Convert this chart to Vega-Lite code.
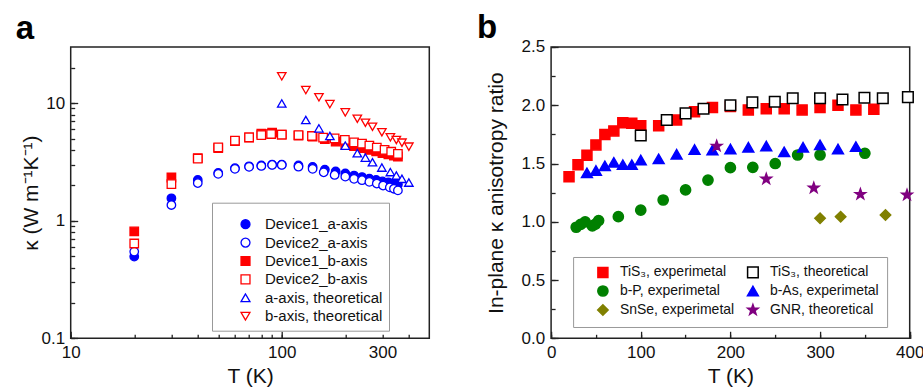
{
 "$schema": "https://vega.github.io/schema/vega-lite/v6.json",
 "autosize": {"type": "none"},
 "padding": {"left": 70.7, "top": 47, "right": 852.3, "bottom": 341},
 "background": "white",
 "spacing": 121.4,
 "bounds": "flush",
 "resolve": {"scale": {"shape": "independent", "fill": "independent", "stroke": "independent", "size": "independent", "x": "independent", "y": "independent"}, "legend": {"shape": "independent", "fill": "independent", "stroke": "independent", "size": "independent"}},
 "datasets": {
  "kappa": [
   {"series": "Device1_a-axis", "T": 20, "k": 0.495},
   {"series": "Device1_a-axis", "T": 30, "k": 1.55},
   {"series": "Device1_a-axis", "T": 40, "k": 2.22},
   {"series": "Device1_a-axis", "T": 50, "k": 2.55},
   {"series": "Device1_a-axis", "T": 60, "k": 2.8},
   {"series": "Device1_a-axis", "T": 70, "k": 2.9},
   {"series": "Device1_a-axis", "T": 80, "k": 2.95},
   {"series": "Device1_a-axis", "T": 90, "k": 3.0},
   {"series": "Device1_a-axis", "T": 100, "k": 3.0},
   {"series": "Device1_a-axis", "T": 120, "k": 2.95},
   {"series": "Device1_a-axis", "T": 140, "k": 2.87},
   {"series": "Device1_a-axis", "T": 160, "k": 2.72},
   {"series": "Device1_a-axis", "T": 180, "k": 2.62},
   {"series": "Device1_a-axis", "T": 200, "k": 2.52},
   {"series": "Device1_a-axis", "T": 220, "k": 2.42},
   {"series": "Device1_a-axis", "T": 240, "k": 2.35},
   {"series": "Device1_a-axis", "T": 260, "k": 2.28},
   {"series": "Device1_a-axis", "T": 280, "k": 2.22},
   {"series": "Device1_a-axis", "T": 300, "k": 2.16},
   {"series": "Device1_a-axis", "T": 320, "k": 2.12},
   {"series": "Device1_a-axis", "T": 340, "k": 2.07},
   {"series": "Device1_a-axis", "T": 355, "k": 2.03},
   {"series": "Device1_b-axis", "T": 20, "k": 0.81},
   {"series": "Device1_b-axis", "T": 30, "k": 2.33},
   {"series": "Device1_b-axis", "T": 40, "k": 3.4},
   {"series": "Device1_b-axis", "T": 50, "k": 4.15},
   {"series": "Device1_b-axis", "T": 60, "k": 4.75},
   {"series": "Device1_b-axis", "T": 70, "k": 5.1},
   {"series": "Device1_b-axis", "T": 80, "k": 5.5},
   {"series": "Device1_b-axis", "T": 90, "k": 5.6},
   {"series": "Device1_b-axis", "T": 100, "k": 5.4},
   {"series": "Device1_b-axis", "T": 120, "k": 5.3},
   {"series": "Device1_b-axis", "T": 140, "k": 5.2},
   {"series": "Device1_b-axis", "T": 160, "k": 4.95},
   {"series": "Device1_b-axis", "T": 180, "k": 4.7},
   {"series": "Device1_b-axis", "T": 200, "k": 4.45},
   {"series": "Device1_b-axis", "T": 220, "k": 4.3},
   {"series": "Device1_b-axis", "T": 240, "k": 4.15},
   {"series": "Device1_b-axis", "T": 260, "k": 4.0},
   {"series": "Device1_b-axis", "T": 280, "k": 3.88},
   {"series": "Device1_b-axis", "T": 300, "k": 3.76},
   {"series": "Device1_b-axis", "T": 320, "k": 3.66},
   {"series": "Device1_b-axis", "T": 340, "k": 3.57},
   {"series": "Device1_b-axis", "T": 355, "k": 3.5},
   {"series": "Device2_a-axis", "T": 20, "k": 0.546},
   {"series": "Device2_a-axis", "T": 30, "k": 1.36},
   {"series": "Device2_a-axis", "T": 40, "k": 2.09},
   {"series": "Device2_a-axis", "T": 50, "k": 2.5},
   {"series": "Device2_a-axis", "T": 60, "k": 2.76},
   {"series": "Device2_a-axis", "T": 70, "k": 2.87},
   {"series": "Device2_a-axis", "T": 80, "k": 2.92},
   {"series": "Device2_a-axis", "T": 90, "k": 2.98},
   {"series": "Device2_a-axis", "T": 100, "k": 2.98},
   {"series": "Device2_a-axis", "T": 120, "k": 2.88},
   {"series": "Device2_a-axis", "T": 140, "k": 2.76},
   {"series": "Device2_a-axis", "T": 158, "k": 2.58},
   {"series": "Device2_a-axis", "T": 178, "k": 2.45},
   {"series": "Device2_a-axis", "T": 200, "k": 2.37},
   {"series": "Device2_a-axis", "T": 220, "k": 2.27},
   {"series": "Device2_a-axis", "T": 240, "k": 2.21},
   {"series": "Device2_a-axis", "T": 260, "k": 2.14},
   {"series": "Device2_a-axis", "T": 282, "k": 2.07},
   {"series": "Device2_a-axis", "T": 302, "k": 1.99},
   {"series": "Device2_a-axis", "T": 325, "k": 1.92},
   {"series": "Device2_a-axis", "T": 340, "k": 1.87},
   {"series": "Device2_a-axis", "T": 355, "k": 1.81},
   {"series": "Device2_b-axis", "T": 20, "k": 0.64},
   {"series": "Device2_b-axis", "T": 30, "k": 2.05},
   {"series": "Device2_b-axis", "T": 40, "k": 3.37},
   {"series": "Device2_b-axis", "T": 50, "k": 4.21},
   {"series": "Device2_b-axis", "T": 60, "k": 4.79},
   {"series": "Device2_b-axis", "T": 70, "k": 5.12},
   {"series": "Device2_b-axis", "T": 80, "k": 5.35},
   {"series": "Device2_b-axis", "T": 89, "k": 5.46},
   {"series": "Device2_b-axis", "T": 100, "k": 5.39},
   {"series": "Device2_b-axis", "T": 120, "k": 5.35},
   {"series": "Device2_b-axis", "T": 139, "k": 5.25},
   {"series": "Device2_b-axis", "T": 157, "k": 5.08},
   {"series": "Device2_b-axis", "T": 178, "k": 5.02},
   {"series": "Device2_b-axis", "T": 199, "k": 4.86},
   {"series": "Device2_b-axis", "T": 220, "k": 4.64},
   {"series": "Device2_b-axis", "T": 240, "k": 4.52},
   {"series": "Device2_b-axis", "T": 260, "k": 4.35},
   {"series": "Device2_b-axis", "T": 282, "k": 4.18},
   {"series": "Device2_b-axis", "T": 307, "k": 4.0},
   {"series": "Device2_b-axis", "T": 330, "k": 3.86},
   {"series": "Device2_b-axis", "T": 355, "k": 3.7},
   {"series": "a-axis, theoretical", "T": 100, "k": 9.94},
   {"series": "a-axis, theoretical", "T": 130, "k": 7.18},
   {"series": "a-axis, theoretical", "T": 150, "k": 6.1},
   {"series": "a-axis, theoretical", "T": 169, "k": 5.25},
   {"series": "a-axis, theoretical", "T": 200, "k": 4.35},
   {"series": "a-axis, theoretical", "T": 228, "k": 3.75},
   {"series": "a-axis, theoretical", "T": 249, "k": 3.44},
   {"series": "a-axis, theoretical", "T": 269, "k": 3.14},
   {"series": "a-axis, theoretical", "T": 298, "k": 2.83},
   {"series": "a-axis, theoretical", "T": 327, "k": 2.59},
   {"series": "a-axis, theoretical", "T": 349, "k": 2.42},
   {"series": "a-axis, theoretical", "T": 371, "k": 2.27},
   {"series": "a-axis, theoretical", "T": 400, "k": 2.11},
   {"series": "b-axis, theoretical", "T": 100, "k": 16.9},
   {"series": "b-axis, theoretical", "T": 130, "k": 12.9},
   {"series": "b-axis, theoretical", "T": 150, "k": 11.2},
   {"series": "b-axis, theoretical", "T": 169, "k": 9.8},
   {"series": "b-axis, theoretical", "T": 200, "k": 8.34},
   {"series": "b-axis, theoretical", "T": 228, "k": 7.36},
   {"series": "b-axis, theoretical", "T": 249, "k": 6.81},
   {"series": "b-axis, theoretical", "T": 269, "k": 6.3},
   {"series": "b-axis, theoretical", "T": 298, "k": 5.65},
   {"series": "b-axis, theoretical", "T": 327, "k": 5.12},
   {"series": "b-axis, theoretical", "T": 349, "k": 4.86},
   {"series": "b-axis, theoretical", "T": 371, "k": 4.61},
   {"series": "b-axis, theoretical", "T": 400, "k": 4.26}
  ],
  "ratio": [
   {"series": "b-P, experimetal", "T": 28, "r": 0.953},
   {"series": "b-P, experimetal", "T": 33, "r": 0.978},
   {"series": "b-P, experimetal", "T": 38, "r": 1.0},
   {"series": "b-P, experimetal", "T": 46, "r": 0.964},
   {"series": "b-P, experimetal", "T": 49.5, "r": 0.98},
   {"series": "b-P, experimetal", "T": 53, "r": 1.01},
   {"series": "b-P, experimetal", "T": 75, "r": 1.044},
   {"series": "b-P, experimetal", "T": 100, "r": 1.1},
   {"series": "b-P, experimetal", "T": 125, "r": 1.187},
   {"series": "b-P, experimetal", "T": 150, "r": 1.273},
   {"series": "b-P, experimetal", "T": 175, "r": 1.358},
   {"series": "b-P, experimetal", "T": 200, "r": 1.464},
   {"series": "b-P, experimetal", "T": 225, "r": 1.467},
   {"series": "b-P, experimetal", "T": 250, "r": 1.5},
   {"series": "b-P, experimetal", "T": 275, "r": 1.573},
   {"series": "b-P, experimetal", "T": 300, "r": 1.573},
   {"series": "b-P, experimetal", "T": 350, "r": 1.588},
   {"series": "SnSe, experimetal", "T": 300, "r": 1.03},
   {"series": "SnSe, experimetal", "T": 323, "r": 1.044},
   {"series": "SnSe, experimetal", "T": 373, "r": 1.058},
   {"series": "TiS₃, experimetal", "T": 20, "r": 1.387},
   {"series": "TiS₃, experimetal", "T": 30, "r": 1.49},
   {"series": "TiS₃, experimetal", "T": 40, "r": 1.57},
   {"series": "TiS₃, experimetal", "T": 50, "r": 1.66},
   {"series": "TiS₃, experimetal", "T": 60, "r": 1.75},
   {"series": "TiS₃, experimetal", "T": 70, "r": 1.78},
   {"series": "TiS₃, experimetal", "T": 80, "r": 1.85},
   {"series": "TiS₃, experimetal", "T": 90, "r": 1.845},
   {"series": "TiS₃, experimetal", "T": 100, "r": 1.825},
   {"series": "TiS₃, experimetal", "T": 120, "r": 1.825},
   {"series": "TiS₃, experimetal", "T": 140, "r": 1.873},
   {"series": "TiS₃, experimetal", "T": 160, "r": 1.945},
   {"series": "TiS₃, experimetal", "T": 180, "r": 1.98},
   {"series": "TiS₃, experimetal", "T": 200, "r": 1.99},
   {"series": "TiS₃, experimetal", "T": 220, "r": 1.96},
   {"series": "TiS₃, experimetal", "T": 240, "r": 1.97},
   {"series": "TiS₃, experimetal", "T": 260, "r": 1.97},
   {"series": "TiS₃, experimetal", "T": 280, "r": 1.96},
   {"series": "TiS₃, experimetal", "T": 300, "r": 1.98},
   {"series": "TiS₃, experimetal", "T": 320, "r": 2.0},
   {"series": "TiS₃, experimetal", "T": 340, "r": 1.96},
   {"series": "TiS₃, experimetal", "T": 360, "r": 1.965},
   {"series": "b-As, experimetal", "T": 40, "r": 1.42},
   {"series": "b-As, experimetal", "T": 50, "r": 1.44},
   {"series": "b-As, experimetal", "T": 60, "r": 1.48},
   {"series": "b-As, experimetal", "T": 70, "r": 1.51},
   {"series": "b-As, experimetal", "T": 80, "r": 1.49},
   {"series": "b-As, experimetal", "T": 90, "r": 1.49},
   {"series": "b-As, experimetal", "T": 100, "r": 1.53},
   {"series": "b-As, experimetal", "T": 120, "r": 1.54},
   {"series": "b-As, experimetal", "T": 140, "r": 1.58},
   {"series": "b-As, experimetal", "T": 160, "r": 1.62},
   {"series": "b-As, experimetal", "T": 180, "r": 1.615},
   {"series": "b-As, experimetal", "T": 200, "r": 1.625},
   {"series": "b-As, experimetal", "T": 220, "r": 1.64},
   {"series": "b-As, experimetal", "T": 240, "r": 1.65},
   {"series": "b-As, experimetal", "T": 260, "r": 1.6},
   {"series": "b-As, experimetal", "T": 281, "r": 1.64},
   {"series": "b-As, experimetal", "T": 300, "r": 1.66},
   {"series": "b-As, experimetal", "T": 320, "r": 1.625},
   {"series": "b-As, experimetal", "T": 340, "r": 1.645},
   {"series": "TiS₃, theoretical", "T": 100, "r": 1.74},
   {"series": "TiS₃, theoretical", "T": 129, "r": 1.873},
   {"series": "TiS₃, theoretical", "T": 150, "r": 1.93},
   {"series": "TiS₃, theoretical", "T": 170, "r": 1.97},
   {"series": "TiS₃, theoretical", "T": 200, "r": 2.0},
   {"series": "TiS₃, theoretical", "T": 224.5, "r": 2.025},
   {"series": "TiS₃, theoretical", "T": 249.5, "r": 2.03},
   {"series": "TiS₃, theoretical", "T": 269.5, "r": 2.06},
   {"series": "TiS₃, theoretical", "T": 300, "r": 2.06},
   {"series": "TiS₃, theoretical", "T": 325, "r": 2.05},
   {"series": "TiS₃, theoretical", "T": 349.5, "r": 2.065},
   {"series": "TiS₃, theoretical", "T": 370, "r": 2.06},
   {"series": "TiS₃, theoretical", "T": 398, "r": 2.07},
   {"series": "GNR, theoretical", "T": 184.7, "r": 1.65},
   {"series": "GNR, theoretical", "T": 240, "r": 1.367},
   {"series": "GNR, theoretical", "T": 293, "r": 1.29},
   {"series": "GNR, theoretical", "T": 345, "r": 1.236},
   {"series": "GNR, theoretical", "T": 397, "r": 1.23}
  ]
 },
 "hconcat": [
  {
   "width": 358.6,
   "height": 291.3,
   "title": {"text": "a", "anchor": "start", "frame": "group", "dx": -55, "offset": -25, "fontSize": 33, "fontWeight": "bold", "baseline": "alphabetic", "color": "#000"},
   "data": {"name": "kappa"},
   "resolve": {"axis": {"x": "independent", "y": "independent"}},
   "layer": [
    {
     "mark": {"type": "point", "filled": true, "strokeWidth": 1.3, "size": 72, "opacity": 1},
     "encoding": {
      "x": {"field": "T", "type": "quantitative", "scale": {"type": "log", "domain": [10, 500], "nice": false, "zero": false},
        "axis": {"orient": "bottom", "values": [10, 20, 30, 40, 50, 60, 70, 80, 90, 100, 200, 300, 400], "labelExpr": "datum.value == 10 ? '10' : datum.value == 100 ? '100' : datum.value == 300 ? '300' : ''", "tickSize": -4, "labelPadding": 10.5, "title": "T (K)", "titlePadding": 5}},
      "y": {"field": "k", "type": "quantitative", "scale": {"type": "log", "domain": [0.1, 30], "nice": false, "zero": false},
        "axis": {"orient": "left", "values": [0.1, 0.2, 0.3, 0.4, 0.5, 0.6, 0.7, 0.8, 0.9, 1, 2, 3, 4, 5, 6, 7, 8, 9, 10, 20], "labelExpr": "datum.value == 0.1 ? '0.1' : datum.value == 1 ? '1' : datum.value == 10 ? '10' : ''", "tickSize": -4, "labelPadding": 10, "title": "κ (W m⁻¹K⁻¹)", "titlePadding": 0}},
      "shape": {"field": "series", "type": "nominal",
        "scale": {"domain": ["Device1_a-axis", "Device2_a-axis", "Device1_b-axis", "Device2_b-axis", "a-axis, theoretical", "b-axis, theoretical"], "range": ["circle", "circle", "square", "square", "triangle-up", "triangle-down"]},
        "legend": {"orient": "none", "legendX": 141.3, "legendY": 155.7, "title": " ", "titleFontSize": 8, "titlePadding": 0, "fillColor": "#ffffff", "strokeColor": "#999999", "padding": 6, "symbolOffset": 20, "labelOffset": 12, "labelFontSize": 15, "labelColor": "#111", "symbolSize": 80, "symbolStrokeWidth": 1.3, "rowPadding": 2.4}},
      "fill": {"field": "series", "type": "nominal",
        "scale": {"domain": ["Device1_a-axis", "Device2_a-axis", "Device1_b-axis", "Device2_b-axis", "a-axis, theoretical", "b-axis, theoretical"], "range": ["#0000ff", "#ffffff", "#ff0000", "#ffffff", "#ffffff", "#ffffff"]}},
      "stroke": {"field": "series", "type": "nominal",
        "scale": {"domain": ["Device1_a-axis", "Device2_a-axis", "Device1_b-axis", "Device2_b-axis", "a-axis, theoretical", "b-axis, theoretical"], "range": ["#0000ff", "#0000ff", "#ff0000", "#ff0000", "#0000ff", "#ff0000"]}}
     }
    },
    {
     "mark": {"type": "point", "opacity": 0},
     "encoding": {
      "x": {"field": "T", "type": "quantitative", "scale": {"type": "log", "domain": [10, 500], "nice": false, "zero": false},
        "axis": {"orient": "bottom", "values": [10, 100], "labels": false, "tickSize": -7, "title": null}},
      "y": {"field": "k", "type": "quantitative", "scale": {"type": "log", "domain": [0.1, 30], "nice": false, "zero": false},
        "axis": {"orient": "left", "values": [0.1, 1, 10], "labels": false, "tickSize": -7, "title": null}}
     }
    }
   ]
  },
  {
   "width": 358.6,
   "height": 291.3,
   "title": {"text": "b", "anchor": "start", "frame": "group", "dx": -74, "offset": -33, "fontSize": 33, "fontWeight": "bold", "baseline": "alphabetic", "color": "#000"},
   "data": {"name": "ratio"},
   "resolve": {"axis": {"x": "independent", "y": "independent"}},
   "layer": [
    {
     "mark": {"type": "point", "filled": true, "strokeWidth": 1.5, "opacity": 1},
     "encoding": {
      "x": {"field": "T", "type": "quantitative", "scale": {"domain": [0, 400], "nice": false},
        "axis": {"orient": "bottom", "values": [0, 50, 100, 150, 200, 250, 300, 350, 400], "labelExpr": "datum.value % 100 == 0 ? format(datum.value, 'd') : ''", "tickSize": -4, "labelPadding": 10.5, "title": "T (K)", "titlePadding": 5}},
      "y": {"field": "r", "type": "quantitative", "scale": {"domain": [0, 2.5], "nice": false},
        "axis": {"orient": "left", "values": [0, 0.25, 0.5, 0.75, 1, 1.25, 1.5, 1.75, 2, 2.25, 2.5], "labelExpr": "round(datum.value * 4) % 2 == 0 ? format(datum.value, '.1f') : ''", "tickSize": -4, "labelPadding": 10.5, "title": "In-plane κ anisotropy ratio", "titlePadding": 14}},
      "shape": {"field": "series", "type": "nominal",
        "scale": {"domain": ["TiS₃, experimetal", "b-P, experimetal", "SnSe, experimetal", "TiS₃, theoretical", "b-As, experimetal", "GNR, theoretical"], "range": ["square", "circle", "diamond", "square", "triangle-up", "M0,-1L0.235,-0.324L0.951,-0.309L0.38,0.124L0.588,0.809L0,0.4L-0.588,0.809L-0.38,0.124L-0.951,-0.309L-0.235,-0.324Z"]},
        "legend": {"orient": "none", "legendX": 22, "legendY": 210, "title": " ", "titleOrient": "left", "titleFontSize": 8, "titlePadding": 3.8, "columns": 2, "columnPadding": 0, "fillColor": "#ffffff", "strokeColor": "#999999", "padding": 8, "symbolOffset": 11, "labelOffset": 10, "labelFontSize": 14, "labelColor": "#111", "symbolStrokeWidth": 1.5, "rowPadding": 1}},
      "size": {"field": "series", "type": "nominal",
        "scale": {"domain": ["TiS₃, experimetal", "b-P, experimetal", "SnSe, experimetal", "TiS₃, theoretical", "b-As, experimetal", "GNR, theoretical"], "range": [100, 121, 169, 90, 144, 170]}},
      "fill": {"field": "series", "type": "nominal",
        "scale": {"domain": ["TiS₃, experimetal", "b-P, experimetal", "SnSe, experimetal", "TiS₃, theoretical", "b-As, experimetal", "GNR, theoretical"], "range": ["#ff0000", "#008000", "#808000", "#ffffff", "#0000ff", "#800080"]}},
      "stroke": {"field": "series", "type": "nominal",
        "scale": {"domain": ["TiS₃, experimetal", "b-P, experimetal", "SnSe, experimetal", "TiS₃, theoretical", "b-As, experimetal", "GNR, theoretical"], "range": ["#ff0000", "#008000", "#808000", "#000000", "#0000ff", "#800080"]}}
     }
    },
    {
     "mark": {"type": "point", "opacity": 0},
     "encoding": {
      "x": {"field": "T", "type": "quantitative", "scale": {"domain": [0, 400], "nice": false},
        "axis": {"orient": "bottom", "values": [0, 100, 200, 300, 400], "labels": false, "tickSize": -7, "title": null}},
      "y": {"field": "r", "type": "quantitative", "scale": {"domain": [0, 2.5], "nice": false},
        "axis": {"orient": "left", "values": [0, 0.5, 1, 1.5, 2, 2.5], "labels": false, "tickSize": -7, "title": null}}
     }
    }
   ]
  }
 ],
 "config": {
  "font": "Liberation Sans",
  "view": {"stroke": "#222222", "strokeWidth": 1.5},
  "axis": {"domain": false, "grid": false, "labelFontSize": 17, "titleFontSize": 21, "titleFontWeight": "normal", "labelColor": "#111111", "titleColor": "#111111", "tickColor": "#222222", "tickWidth": 1.3, "labelFlush": false, "labelOverlap": false, "labelFont": "Liberation Sans", "titleFont": "Liberation Sans"},
  "legend": {"labelFont": "Liberation Sans"},
  "title": {"font": "Liberation Sans"}
 }
}
